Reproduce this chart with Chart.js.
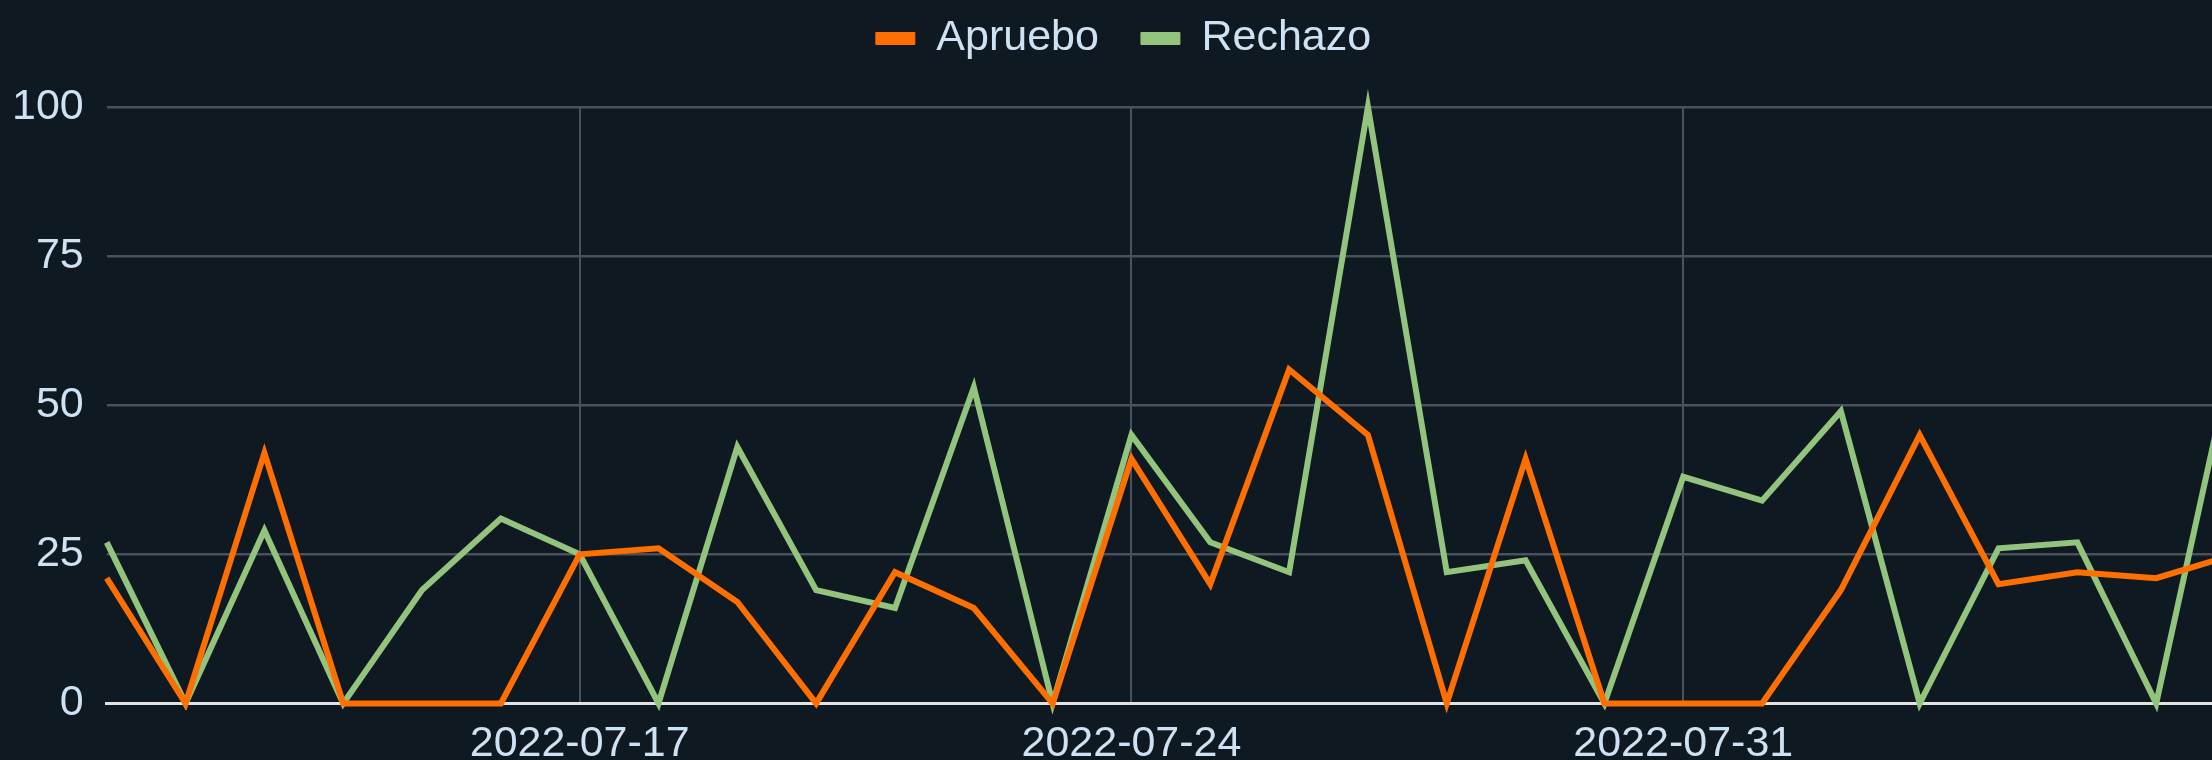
<!DOCTYPE html>
<html lang="es">
<head>
<meta charset="utf-8">
<title>Apruebo / Rechazo</title>
<script src="https://cdn.jsdelivr.net/npm/chart.js@4.4.0/dist/chart.umd.min.js"></script>
<style>
    html, body {
        margin: 0;
        padding: 0;
        background: #0f1922;
        overflow: hidden;
    }
    /* le graphique est un peu plus grand que la fenêtre : il est coupé à droite et en bas */
    #chart-wrap {
        position: relative;
        width: 2250px;
        height: 785px;
    }
</style>
</head>
<body>
<div id="chart-wrap">
    <canvas id="votosChart"></canvas>
</div>
<script>
// Données (une valeur par jour)
const JOURS = [
    '2022-07-11', '2022-07-12', '2022-07-13', '2022-07-14', '2022-07-15', '2022-07-16', '2022-07-17',
    '2022-07-18', '2022-07-19', '2022-07-20', '2022-07-21', '2022-07-22', '2022-07-23', '2022-07-24',
    '2022-07-25', '2022-07-26', '2022-07-27', '2022-07-28', '2022-07-29', '2022-07-30', '2022-07-31',
    '2022-08-01', '2022-08-02', '2022-08-03', '2022-08-04', '2022-08-05', '2022-08-06', '2022-08-07'
];
const APRUEBO = [21, 0, 42, 0, 0, 0, 25, 26, 17, 0, 22, 16, 0, 41, 20, 56, 45, 0, 41, 0, 0, 0, 19, 45, 20, 22, 21, 25];
const RECHAZO = [27, 0, 29, 0, 19, 31, 25, 0, 43, 19, 16, 53, 0, 45, 27, 22, 100, 22, 24, 0, 38, 34, 49, 0, 26, 27, 0, 60];

// Étiquettes affichées sur l'axe X (une par semaine)
const TICKS_X = ['2022-07-17', '2022-07-24', '2022-07-31'];
const TICKS_Y = [0, 25, 50, 75, 100];

const TEXTE = '#cfe2f3';
const GRILLE = '#49515a';
const POLICE = "'Liberation Sans', Arial, Helvetica, sans-serif";

// Espace supplémentaire sous la légende
const legendeEspace = {
    id: 'legendeEspace',
    beforeInit(chart) {
        const fitOrig = chart.legend.fit;
        chart.legend.fit = function () {
            fitOrig.bind(chart.legend)();
            this.height += 37;
        };
    }
};

function createChart() {
    const ctx = document.getElementById('votosChart').getContext('2d');
    return new Chart(ctx, {
        type: 'line',
        data: {
            labels: JOURS,
            datasets: [
                {
                    label: 'Apruebo',
                    data: APRUEBO,
                    borderColor: '#ff6f00',
                    backgroundColor: '#ff6f00',
                    borderWidth: 6,
                    pointRadius: 0,
                    tension: 0,
                    clip: false
                },
                {
                    label: 'Rechazo',
                    data: RECHAZO,
                    borderColor: '#93c47d',
                    backgroundColor: '#93c47d',
                    borderWidth: 6,
                    pointRadius: 0,
                    tension: 0,
                    clip: false
                }
            ]
        },
        options: {
            responsive: true,
            maintainAspectRatio: false,
            animation: false,
            layout: {
                padding: { top: -25, left: -11, right: -8, bottom: 0 }
            },
            plugins: {
                legend: {
                    position: 'top',
                    labels: {
                        color: TEXTE,
                        font: { family: POLICE, size: 43 },
                        boxWidth: 39,
                        boxHeight: 12,
                        padding: 42,
                        generateLabels(chart) {
                            const items = Chart.defaults.plugins.legend.labels.generateLabels(chart);
                            items.forEach(item => { item.lineWidth = 1; });
                            return items;
                        }
                    }
                },
                tooltip: { enabled: false }
            },
            scales: {
                x: {
                    type: 'category',
                    grid: {
                        drawTicks: false,
                        lineWidth: 2,
                        color: (c) => {
                            const jour = c.tick ? JOURS[c.tick.value] : null;
                            return TICKS_X.includes(jour) ? GRILLE : 'rgba(0,0,0,0)';
                        }
                    },
                    border: { display: true, color: '#e2e2e2', width: 3 },
                    ticks: {
                        autoSkip: false,
                        maxRotation: 0,
                        padding: 15,
                        color: TEXTE,
                        font: { family: POLICE, size: 43 },
                        callback: function (value) {
                            const jour = JOURS[value];
                            return TICKS_X.includes(jour) ? jour : '';
                        }
                    }
                },
                y: {
                    min: 0,
                    max: 100,
                    afterBuildTicks: (scale) => {
                        scale.ticks = TICKS_Y.map(v => ({ value: v }));
                    },
                    grid: {
                        drawTicks: false,
                        lineWidth: 2.5,
                        color: (c) => (c.tick && c.tick.value === 0) ? 'rgba(0,0,0,0)' : GRILLE
                    },
                    border: { display: false },
                    ticks: {
                        padding: 23,
                        color: TEXTE,
                        font: { family: POLICE, size: 43 }
                    }
                }
            }
        },
        plugins: [legendeEspace]
    });
}

document.addEventListener('DOMContentLoaded', () => {
    createChart();
});
</script>
</body>
</html>
